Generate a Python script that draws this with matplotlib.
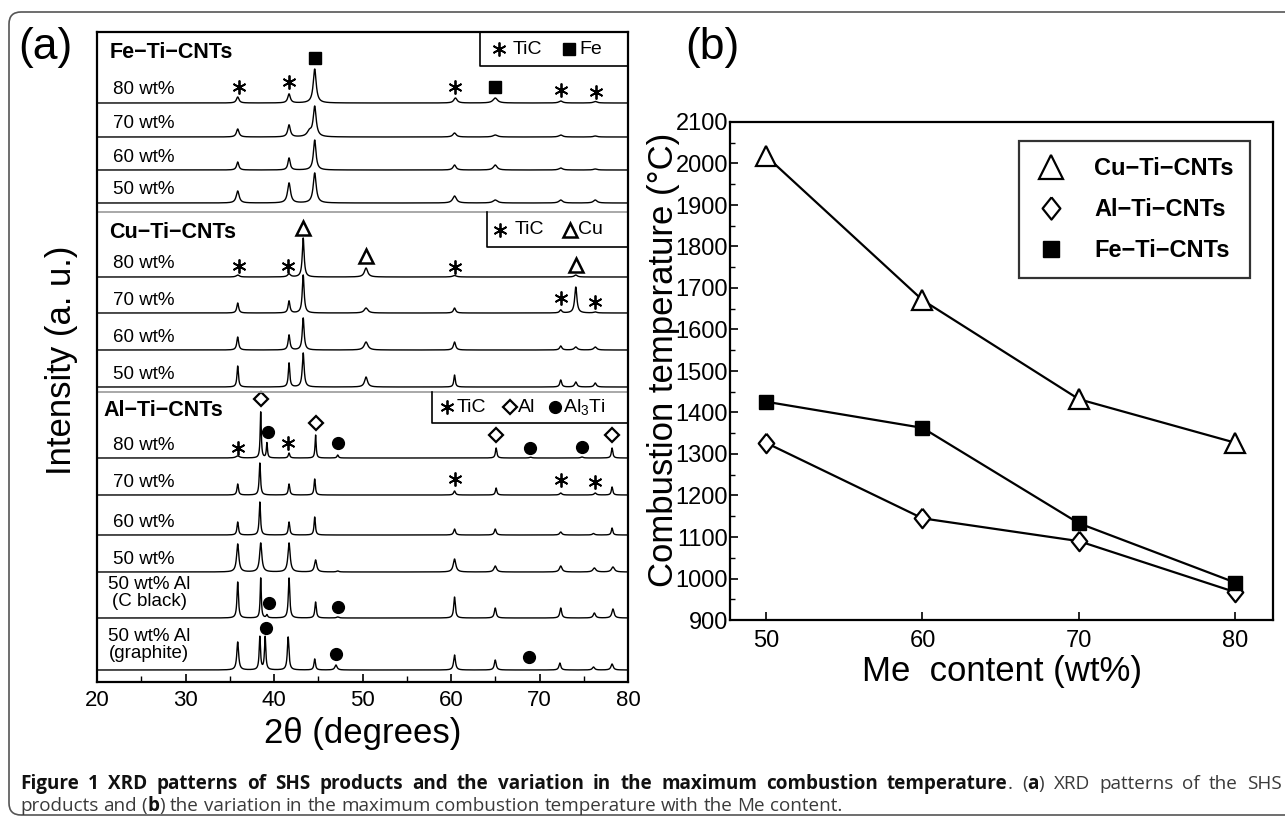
import numpy as np
import matplotlib
matplotlib.use("Agg")
import matplotlib.pyplot as plt
from matplotlib.patches import FancyBboxPatch
from matplotlib.lines import Line2D
from matplotlib.transforms import IdentityTransform

plt.rcParams['font.family'] = ['Liberation Sans', 'DejaVu Sans']
plt.rcParams['mathtext.fontset'] = 'custom'
plt.rcParams['mathtext.rm'] = 'Liberation Sans'
plt.rcParams['mathtext.it'] = 'Liberation Sans:italic'
plt.rcParams['mathtext.bf'] = 'Liberation Sans:bold'

# ---------------- panel (b) data ----------------
me_content = [50, 60, 70, 80]
t_cu = [2018, 1671, 1432, 1327]
t_al = [1327, 1145, 1090, 967]
t_fe = [1426, 1363, 1133, 990]

# ---------------- panel (a) data: (2theta, height, fwhm) ----------------
fe80 = [(35.9, 6, .35), (41.7, 9, .35), (44.6, 34, .4), (60.5, 5, .45), (65.0, 5, .6), (72.4, 2, .5), (76.3, 1.5, .5)]
fe70 = [(35.9, 8, .35), (41.7, 12, .35), (44.0, 5, .6), (44.6, 30, .4), (60.4, 4, .45), (65.0, 2, .6), (72.4, 2, .5), (76.3, 1, .5)]
fe60 = [(35.9, 8, .3), (41.7, 12, .3), (44.6, 30, .35), (60.4, 5, .4), (65.0, 5, .5), (72.4, 2, .5), (76.3, 1, .5)]
fe50 = [(35.9, 12, .4), (41.7, 20, .4), (44.6, 30, .4), (60.4, 7, .5), (65.0, 3, .6), (72.4, 3, .5), (76.3, 3, .5)]

cu80 = [(35.9, 2, .4), (41.7, 3, .4), (43.3, 39, .25), (50.4, 9, .45), (60.4, 1.5, .5), (74.1, 2, .4)]
cu70 = [(35.9, 10, .25), (41.7, 12, .25), (43.3, 38, .25), (50.4, 5, .5), (60.4, 5, .3), (72.4, 3, .3), (74.1, 26, .3), (76.3, 1, .4)]
cu60 = [(35.9, 13, .25), (41.7, 15, .25), (43.3, 32, .25), (50.4, 8, .5), (60.4, 8, .3), (72.4, 4, .3), (74.1, 3, .4), (76.3, 3, .4)]
cu50 = [(35.9, 21, .2), (41.7, 24, .2), (43.3, 34, .25), (50.4, 10, .4), (60.4, 12, .2), (72.4, 7, .25), (74.1, 5, .3), (76.3, 4, .3)]

al80 = [(35.9, 2, .5), (38.5, 46, .15), (39.2, 15, .15), (41.7, 5, .2), (44.7, 23, .15), (47.2, 3, .2), (65.1, 10, .2), (69.0, .8, .3), (74.8, 1, .3), (78.2, 10, .2)]
al70 = [(35.9, 11, .2), (38.4, 32, .18), (41.7, 11, .2), (44.6, 16, .18), (60.4, 4, .25), (65.1, 7, .2), (72.4, 2, .3), (76.3, 2, .3), (78.2, 8, .2)]
al60 = [(35.9, 13, .2), (38.4, 33, .18), (41.7, 13, .2), (44.6, 18, .18), (60.4, 6, .25), (65.0, 6, .25), (72.4, 3, .3), (76.1, 1.5, .3), (78.2, 7, .2)]
al50 = [(35.9, 28, .3), (38.5, 29, .3), (41.7, 29, .3), (44.7, 12, .3), (47.2, 1, .3), (60.4, 13, .35), (65.0, 6, .35), (72.4, 6, .35), (76.2, 4, .4), (78.3, 5, .4)]
al_cblack = [(35.9, 36, .2), (38.5, 40, .15), (39.2, 3, .2), (41.7, 40, .2), (44.7, 16, .2), (47.2, 1, .3), (60.4, 21, .22), (65.0, 10, .25), (72.4, 10, .25), (76.2, 5, .3), (78.3, 9, .3)]
al_graphite = [(35.9, 28, .25), (38.4, 33, .18), (39.0, 33, .18), (41.6, 33, .22), (44.6, 11, .2), (47.0, 5, .3), (60.4, 15, .25), (65.0, 10, .25), (72.3, 7, .25), (76.1, 3, .3), (78.2, 6, .3)]

rows = [fe80, fe70, fe60, fe50, cu80, cu70, cu60, cu50,
        al80, al70, al60, al50, al_cblack, al_graphite]
row_labels = ['80 wt%', '70 wt%', '60 wt%', '50 wt%'] * 3 + ['50 wt% Al\n(C black)', '50 wt% Al\n(graphite)']
# vertical stacking offsets (layout)
offsets = [579, 545, 512, 479, 405, 369, 332, 295, 224, 187, 147, 110, 64, 12]

# phase markers (2theta, stacked y)
mk_tic = [(36.0, 595), (41.7, 600), (60.5, 595), (72.4, 592), (76.4, 590),
          (36.0, 416), (41.6, 416), (60.4, 415), (72.4, 384), (76.3, 380),
          (35.9, 234), (41.6, 239), (60.4, 203), (72.4, 202), (76.3, 200)]
mk_fe = [(44.6, 624), (65.0, 595)]
mk_cu = [(43.3, 454), (50.4, 426), (74.1, 417)]
mk_al = [(38.5, 283), (44.7, 259), (65.1, 247), (78.2, 247)]
mk_al3ti = [(39.3, 250), (47.2, 239), (68.9, 234), (74.8, 235),
            (39.4, 79), (47.2, 75), (39.1, 54), (47.0, 28), (68.8, 25)]

# caption: lines -> words -> (fragment, bold)
caption_l1 = [[(w, True)] for w in 'Figure 1 XRD patterns of SHS products and the variation in the maximum combustion'.split()] + \
             [[('temperature', True), ('.', False)], [('(', False), ('a', True), (')', False)]] + \
             [[(w, False)] for w in 'XRD patterns of the SHS'.split()]
caption_l2 = [[('products', False)], [('and', False)], [('(', False), ('b', True), (')', False)]] + \
             [[(w, False)] for w in 'the variation in the maximum combustion temperature with the Me content.'.split()]

STY = {
    'tic': dict(marker=(6, 2, 0), ms=10, mew=1.3, color='black'),
    'fe': dict(marker='s', ms=8, color='black'),
    'cu': dict(marker='^', ms=10, mew=1.8, mfc='white', mec='black'),
    'al': dict(marker='D', ms=7, mew=1.6, mfc='white', mec='black'),
    'al3ti': dict(marker='o', ms=8.5, color='black'),
}

W, H = 1285, 821
fig = plt.figure(figsize=(W / 100, H / 100), dpi=100)

def px_rect(l, t, r, b):
    return [l / W, 1 - b / H, (r - l) / W, (b - t) / H]

# ---------------- panel (a) ----------------
ax = fig.add_axes(px_rect(97, 32, 628, 682))
x = np.linspace(20, 80, 6001)
for peaks, off, lab in zip(rows, offsets, row_labels):
    y = np.zeros_like(x)
    for p, h, w in peaks:
        y += h / (1 + (2 * (x - p) / w) ** 2)
    ax.plot(x, y + off, color='black', lw=1.0)
    if '\n' in lab:
        ax.text(25.9, off + 25, lab, fontsize=13.5, ha='center', va='center', linespacing=1.05)
    else:
        ax.text(21.8, off + 13, lab, fontsize=13.5, ha='left', va='center')

for pts, key in [(mk_tic, 'tic'), (mk_fe, 'fe'), (mk_cu, 'cu'), (mk_al, 'al'), (mk_al3ti, 'al3ti')]:
    xs, ys = zip(*pts)
    ax.plot(xs, ys, ls='none', **STY[key])

# section titles
for s, (tx, ty) in zip(['Fe−Ti−CNTs', 'Cu−Ti−CNTs', 'Al−Ti−CNTs'], [(21.4, 629), (21.4, 449), (20.7, 272)]):
    ax.text(tx, ty, s, fontsize=15.5, fontweight='bold', ha='left', va='center')

# section separators
for yy in [470, 290]:
    ax.plot([20, 80], [yy, yy], color='#9a9a9a', lw=1.2)

# legend boxes for the sections
for (bx, btop, bbot) in [(63.3, 650, 616), (64.1, 470, 435), (57.9, 290, 259)]:
    ax.plot([bx, bx, 80], [btop, bbot, bbot], color='black', lw=1.2)

def inline_legend(items, yy):
    for kind, xm, label, xt in items:
        ax.plot([xm], [yy], ls='none', **STY[kind])
        ax.text(xt, yy, label, fontsize=14, ha='left', va='center')

inline_legend([('tic', 65.4, 'TiC', 67.0), ('fe', 73.3, 'Fe', 74.5)], 633)
inline_legend([('tic', 65.5, 'TiC', 67.2), ('cu', 73.4, 'Cu', 74.3)], 452)
inline_legend([('tic', 59.6, 'TiC', 60.6), ('al', 66.7, 'Al', 67.6), ('al3ti', 71.8, 'Al$_3$Ti', 72.6)], 275)

ax.set_xlim(20, 80)
ax.set_ylim(0, 650)
ax.set_yticks([])
ax.set_xticks(np.arange(20, 81, 10))
ax.set_xticks(np.arange(25, 80, 10), minor=True)
ax.tick_params(axis='x', which='major', direction='in', length=6, width=1.2, labelsize=16, pad=6)
ax.tick_params(axis='x', which='minor', direction='in', length=4, width=1.0)
for sp in ax.spines.values():
    sp.set_linewidth(1.6)
ax.set_xlabel('2θ (degrees)', fontsize=25, labelpad=4)
fig.text(62 / W, 1 - 360 / H, 'Intensity (a. u.)', rotation=90, fontsize=25, ha='center', va='center')
fig.text(45 / W, 1 - 47 / H, '(a)', fontsize=32, ha='center', va='center')

# ---------------- panel (b) ----------------
bx_ = fig.add_axes(px_rect(730, 122, 1273, 620))
dia = [(0, 1), (0.8, 0), (0, -1), (-0.8, 0), (0, 1)]
bx_.plot(me_content, t_cu, color='black', lw=1.6, marker='^', ms=14, mfc='white', mec='black', mew=1.6, zorder=3)
bx_.plot(me_content, t_al, color='black', lw=1.6, marker=dia, ms=14, mfc='white', mec='black', mew=1.6, zorder=3)
bx_.plot(me_content, t_fe, color='black', lw=1.6, marker='s', ms=10.5, mfc='black', mec='black', zorder=4)

handles = [Line2D([], [], ls='none', marker='^', ms=17, mfc='white', mec='black', mew=1.6),
           Line2D([], [], ls='none', marker=dia, ms=16, mfc='white', mec='black', mew=1.6),
           Line2D([], [], ls='none', marker='s', ms=12, mfc='black', mec='black')]
leg = bx_.legend(handles, ['Cu−Ti−CNTs', 'Al−Ti−CNTs', 'Fe−Ti−CNTs'],
                 loc='upper left', bbox_to_anchor=(0.532, 0.962), frameon=True, fancybox=False,
                 prop={'size': 17, 'weight': 'bold'}, borderpad=0.7, labelspacing=0.75,
                 handlelength=1.3, handletextpad=1.2, borderaxespad=0)
leg.get_frame().set_edgecolor('black')
leg.get_frame().set_linewidth(1.6)

bx_.set_xlim(47.7, 82.4)
bx_.set_ylim(900, 2100)
bx_.set_xticks(me_content)
bx_.set_yticks(np.arange(900, 2101, 100))
bx_.set_yticks(np.arange(950, 2100, 100), minor=True)
bx_.tick_params(which='major', direction='in', length=6, width=1.2, labelsize=17)
bx_.tick_params(axis='y', which='major', pad=1.5)
bx_.tick_params(axis='x', which='major', pad=7)
bx_.tick_params(which='minor', direction='in', length=3.5, width=1.0)
for sp in bx_.spines.values():
    sp.set_linewidth(1.6)
bx_.set_xlabel('Me  content (wt%)', fontsize=25, labelpad=2)
fig.text(663 / W, 1 - 360 / H, 'Combustion temperature (°C)', rotation=90, fontsize=25, ha='center', va='center')
fig.text(712 / W, 1 - 47 / H, '(b)', fontsize=32, ha='center', va='center')

# ---------------- frame and caption ----------------
frame = FancyBboxPatch((9, 6), 1300, 803, boxstyle='round,pad=0,rounding_size=12',
                       transform=IdentityTransform(), fill=False, edgecolor='#555555', lw=1.2)
fig.add_artist(frame)

cap_font = ['Open Sans', 'Liberation Sans', 'DejaVu Sans']
CAP_SIZE = 13.6
renderer = fig.canvas.get_renderer()

def cap_kw(bold):
    return dict(fontsize=CAP_SIZE, fontweight='bold' if bold else 'normal', family=cap_font,
                color='#111111' if bold else '#3a3a3a', va='baseline', ha='left')

def text_width(s, bold):
    t = fig.text(0, 0, s, **cap_kw(bold))
    wdt = t.get_window_extent(renderer).width
    t.remove()
    return wdt

def caption_line(words, x0, y0, x1=None):
    widths = [sum(text_width(s, b) for s, b in wd) for wd in words]
    space = text_width('x x', False) - text_width('xx', False)
    if x1 is not None:
        space = (x1 - x0 - sum(widths)) / (len(words) - 1)
    xp = x0
    for wd, ww in zip(words, widths):
        xf = xp
        for s, b in wd:
            fig.text(xf / W, 1 - y0 / H, s, **cap_kw(b))
            xf += text_width(s, b)
        xp += ww + space

caption_line(caption_l1, 20, 789, x1=1282)
caption_line(caption_l2, 20, 811)

fig.savefig('out.png', dpi=100)
